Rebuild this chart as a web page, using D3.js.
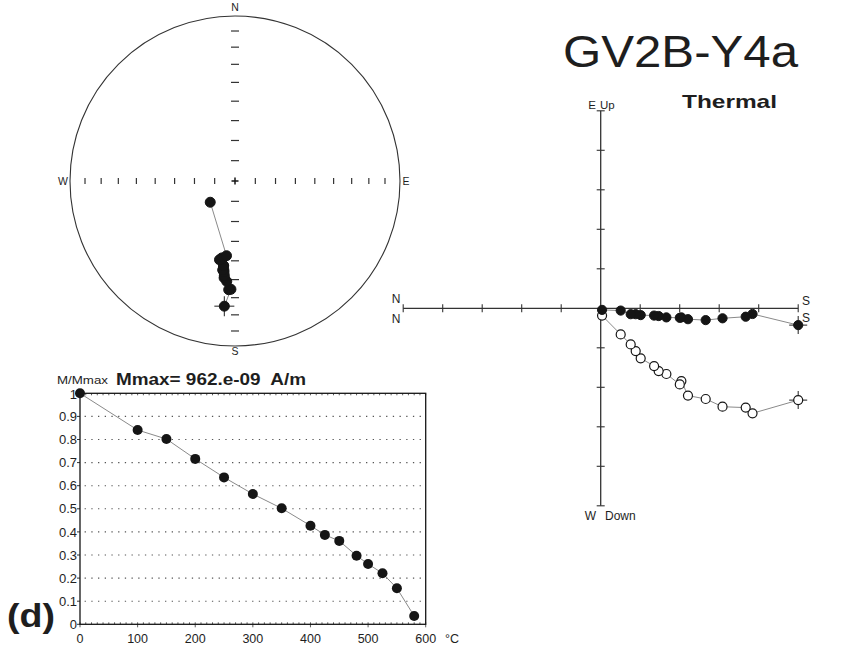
<!DOCTYPE html>
<html>
<head>
<meta charset="utf-8">
<script src="https://cdnjs.cloudflare.com/ajax/libs/d3/7.8.5/d3.min.js"></script>
<style>
  body { margin: 0; background: #fff; }
  svg text { font-family: "Liberation Sans", Arial, sans-serif; fill: #1e1e1e; white-space: pre; }
</style>
</head>
<body>
<svg id="chart" width="853" height="645"></svg>
<script>
// demagnetisation steps, vector components in 1e-9 A/m (north, east, down)
var zSteps = ['NRM', 100, 150, 200, 250, 300, 350, 350, 400, 425, 450, 480, 500, 525, 550, 580];
var zNorth = [-869, -668, -638, -536, -462, -384, -355, -348, -289, -255, -235, -176, -154, -132, -88, -6];
var zEast  = [-74, -25, -37, -44, -52, -48, -40, -42, -40, -34, -32, -30, -26, -26, -10, -7];
var zDown  = [404, 462, 437, 433, 399, 384, 320, 335, 289, 276, 254, 220, 188, 159, 115, 32];

// intensity decay curve
var tempSteps = [0, 100, 150, 200, 250, 300, 350, 400, 425, 450, 480, 500, 525, 550, 580];
var mRatio    = [1.0, 0.841, 0.802, 0.716, 0.636, 0.564, 0.502, 0.427, 0.387, 0.361, 0.297, 0.261, 0.221, 0.156, 0.036];
var xTicks = [0, 100, 200, 300, 400, 500, 600];
var yTicks = [0, 0.1, 0.2, 0.3, 0.4, 0.5, 0.6, 0.7, 0.8, 0.9, 1];
var yLabels = ['0', '0.1', '0.2', '0.3', '0.4', '0.5', '0.6', '0.7', '0.8', '0.9', '1'];
var netTicks = [10, 20, 30, 40, 50, 60, 70, 80];

var sampleName = 'GV2B-Y4a';
var demagType = 'Thermal';
var mmaxText = 'Mmax= 962.e-09  A/m';

var svg = d3.select('#chart');
var ink = '#151515', axisCol = '#333', lineCol = '#8a8a8a';
var rad = Math.PI / 180;

function stretch(sel, w) {
  sel.attr('textLength', w).attr('lengthAdjust', 'spacingAndGlyphs');
}

function cross(g, x, y, s) {
  g.append('line').attr('x1', x - s).attr('x2', x + s).attr('y1', y).attr('y2', y)
    .attr('stroke', axisCol).attr('stroke-width', 1.1);
  g.append('line').attr('x1', x).attr('x2', x).attr('y1', y - s).attr('y2', y + s)
    .attr('stroke', axisCol).attr('stroke-width', 1.1);
}

// ---------- stereonet (equal area) ----------
var net = svg.append('g');
var ncx = 235, ncy = 181, R = 165;
var eqArea = d3.scaleLinear().domain([0, 1]).range([0, R]);

function radiusOf(inc) {
  return eqArea(Math.SQRT2 * Math.sin((90 - Math.abs(inc)) / 2 * rad));
}
function project(dec, inc) {
  var r = radiusOf(inc);
  return [ncx + r * Math.sin(dec * rad), ncy - r * Math.cos(dec * rad)];
}

net.append('circle').attr('cx', ncx).attr('cy', ncy).attr('r', R)
  .attr('fill', 'none').attr('stroke', axisCol).attr('stroke-width', 1.1);

netTicks.forEach(function (t) {
  var r = radiusOf(t);
  [-1, 1].forEach(function (s) {
    net.append('line').attr('x1', ncx + s * r).attr('x2', ncx + s * r)
      .attr('y1', ncy - 3).attr('y2', ncy + 3).attr('stroke', axisCol).attr('stroke-width', 1.2);
    net.append('line').attr('y1', ncy + s * r).attr('y2', ncy + s * r)
      .attr('x1', ncx - 4).attr('x2', ncx + 4).attr('stroke', axisCol).attr('stroke-width', 1.2);
  });
});
net.append('line').attr('x1', ncx - 3.5).attr('x2', ncx + 3.5).attr('y1', ncy).attr('y2', ncy)
  .attr('stroke', ink).attr('stroke-width', 1.5);
net.append('line').attr('x1', ncx).attr('x2', ncx).attr('y1', ncy - 3.5).attr('y2', ncy + 3.5)
  .attr('stroke', ink).attr('stroke-width', 1.5);

net.append('text').attr('x', ncx).attr('y', 11).attr('text-anchor', 'middle').attr('font-size', 10.5).text('N');
net.append('text').attr('x', ncx).attr('y', 355).attr('text-anchor', 'middle').attr('font-size', 10.5).text('S');
net.append('text').attr('x', 63).attr('y', 185).attr('text-anchor', 'middle').attr('font-size', 10.5).text('W');
net.append('text').attr('x', 406).attr('y', 185).attr('text-anchor', 'middle').attr('font-size', 10.5).text('E');

var dirs = zNorth.map(function (n, i) {
  var e = zEast[i], d = zDown[i];
  var dec = Math.atan2(e, n) / rad;
  var inc = Math.atan2(d, Math.sqrt(n * n + e * e)) / rad;
  return { dec: dec, inc: inc, p: project(dec, inc) };
});

net.append('path')
  .attr('d', d3.line()(dirs.map(function (d) { return d.p; })))
  .attr('fill', 'none').attr('stroke', lineCol).attr('stroke-width', 1);
cross(net, dirs[0].p[0], dirs[0].p[1], 10);
net.selectAll('circle.dir').data(dirs).enter().append('circle')
  .attr('class', 'dir')
  .attr('cx', function (d) { return d.p[0]; })
  .attr('cy', function (d) { return d.p[1]; })
  .attr('r', 5)
  .attr('fill', function (d) { return d.inc >= 0 ? ink : '#fff'; })
  .attr('stroke', ink);

// ---------- Zijderveld ----------
var zij = svg.append('g');
var maxC = d3.max(zNorth.concat(zEast, zDown), function (v) { return Math.abs(v); });
var zx = d3.scaleLinear().domain([maxC, -maxC]).range([403.2, 798.2]);   // N left, S right
var zy = d3.scaleLinear().domain([maxC, -maxC]).range([110.8, 505.8]);   // E/Up top, W/Down bottom
var zcx = zx(0), zcy = zy(0);
var zTicks = d3.range(-5, 6).map(function (i) { return i * maxC / 5; });

zij.append('line').attr('x1', zx.range()[0]).attr('x2', zx.range()[1]).attr('y1', zcy).attr('y2', zcy)
  .attr('stroke', axisCol).attr('stroke-width', 1.3);
zij.append('line').attr('y1', zy.range()[0]).attr('y2', zy.range()[1]).attr('x1', zcx).attr('x2', zcx)
  .attr('stroke', axisCol).attr('stroke-width', 1.3);
zTicks.forEach(function (t) {
  if (t === 0) return;
  zij.append('line').attr('x1', zx(t)).attr('x2', zx(t)).attr('y1', zcy - 4).attr('y2', zcy + 4)
    .attr('stroke', axisCol).attr('stroke-width', 1.1);
  zij.append('line').attr('y1', zy(t)).attr('y2', zy(t)).attr('x1', zcx - 4).attr('x2', zcx + 4)
    .attr('stroke', axisCol).attr('stroke-width', 1.1);
});

zij.append('text').attr('x', 396).attr('y', 303).attr('text-anchor', 'middle').attr('font-size', 12).text('N');
zij.append('text').attr('x', 396).attr('y', 323).attr('text-anchor', 'middle').attr('font-size', 12).text('N');
zij.append('text').attr('x', 806).attr('y', 305).attr('text-anchor', 'middle').attr('font-size', 12).text('S');
zij.append('text').attr('x', 806).attr('y', 322).attr('text-anchor', 'middle').attr('font-size', 12).text('S');
zij.append('text').attr('x', 596).attr('y', 109).attr('text-anchor', 'end').attr('font-size', 11.5).text('E');
zij.append('text').attr('x', 600).attr('y', 109).attr('font-size', 11.5).text('Up');
zij.append('text').attr('x', 596).attr('y', 520).attr('text-anchor', 'end').attr('font-size', 12).text('W');
zij.append('text').attr('x', 605).attr('y', 520).attr('font-size', 12).text('Down');

var horiz = zNorth.map(function (n, i) { return [zx(n), zy(zEast[i])]; });
var vert = zNorth.map(function (n, i) { return [zx(n), zy(-zDown[i])]; });

zij.append('path').attr('d', d3.line()(horiz)).attr('fill', 'none').attr('stroke', lineCol).attr('stroke-width', 1);
zij.append('path').attr('d', d3.line()(vert)).attr('fill', 'none').attr('stroke', lineCol).attr('stroke-width', 1);
cross(zij, horiz[0][0], horiz[0][1], 9);
cross(zij, vert[0][0], vert[0][1], 9);

zij.selectAll('circle.vert').data(vert).enter().append('circle')
  .attr('class', 'vert')
  .attr('cx', function (d) { return d[0]; }).attr('cy', function (d) { return d[1]; })
  .attr('r', 4.5).attr('fill', '#fff').attr('stroke', ink).attr('stroke-width', 1.2);
zij.selectAll('circle.horiz').data(horiz).enter().append('circle')
  .attr('class', 'horiz')
  .attr('cx', function (d) { return d[0]; }).attr('cy', function (d) { return d[1]; })
  .attr('r', 4.6).attr('fill', ink).attr('stroke', ink);

// ---------- titles ----------
svg.append('text').attr('x', 563).attr('y', 67).attr('font-size', 45).text(sampleName)
  .call(stretch, 235);
svg.append('text').attr('x', 682).attr('y', 108).attr('font-size', 19).attr('font-weight', 'bold').text(demagType)
  .call(stretch, 95);

// ---------- intensity decay ----------
var dec = svg.append('g');
var mx = d3.scaleLinear().domain([0, 600]).range([80, 425.7]);
var my = d3.scaleLinear().domain([0, 1]).range([624.3, 393.3]);

yTicks.slice(1, 10).forEach(function (t) {
  dec.append('line').attr('x1', mx(8)).attr('x2', mx(596)).attr('y1', my(t)).attr('y2', my(t))
    .attr('stroke', '#555').attr('stroke-width', 1.1).attr('stroke-dasharray', '1.3,5.4');
});

d3.range(0, 601, 10).forEach(function (t) {
  var major = t % 100 === 0;
  dec.append('line').attr('x1', mx(t)).attr('x2', mx(t))
    .attr('y1', my(0) - 2).attr('y2', my(0) + (major ? 3 : 0))
    .attr('stroke', axisCol).attr('stroke-width', 0.8);
  dec.append('line').attr('x1', mx(t)).attr('x2', mx(t))
    .attr('y1', my(1)).attr('y2', my(1) + 2)
    .attr('stroke', axisCol).attr('stroke-width', 0.8);
});
yTicks.forEach(function (t) {
  dec.append('line').attr('x1', mx(0) - 3).attr('x2', mx(0)).attr('y1', my(t)).attr('y2', my(t))
    .attr('stroke', axisCol).attr('stroke-width', 1);
});
dec.append('rect').attr('x', mx(0)).attr('y', my(1))
  .attr('width', mx(600) - mx(0)).attr('height', my(0) - my(1))
  .attr('fill', 'none').attr('stroke', ink).attr('stroke-width', 1.3);

dec.selectAll('text.ytick').data(yTicks).enter().append('text')
  .attr('class', 'ytick')
  .attr('x', 77).attr('y', function (d) { return my(d) + (d === 1 ? 1 : 0); }).attr('dy', '0.36em')
  .attr('text-anchor', 'end').attr('font-size', 13)
  .text(function (d, i) { return yLabels[i]; });
dec.selectAll('text.xtick').data(xTicks).enter().append('text')
  .attr('class', 'xtick')
  .attr('x', function (d) { return mx(d); }).attr('y', 643)
  .attr('text-anchor', 'middle').attr('font-size', 12.5)
  .text(function (d) { return d; });
dec.append('text').attr('x', 445).attr('y', 643).attr('font-size', 12.5).text('°C');

dec.append('text').attr('x', 57).attr('y', 383.5).attr('font-size', 10.5).text('M/Mmax').call(stretch, 51);
dec.append('text').attr('x', 116).attr('y', 384.5).attr('font-size', 16).attr('font-weight', 'bold')
  .text(mmaxText).call(stretch, 190);
dec.append('text').attr('x', 7).attr('y', 627).attr('font-size', 33).attr('font-weight', 'bold')
  .text('(d)').call(stretch, 48);

var mPts = tempSteps.map(function (t, i) { return [mx(t), my(mRatio[i])]; });
dec.append('path').attr('d', d3.line()(mPts)).attr('fill', 'none').attr('stroke', lineCol).attr('stroke-width', 1);
dec.selectAll('circle.m').data(mPts).enter().append('circle')
  .attr('class', 'm')
  .attr('cx', function (d) { return d[0]; }).attr('cy', function (d) { return d[1]; })
  .attr('r', 5).attr('fill', ink);
</script>
</body>
</html>
